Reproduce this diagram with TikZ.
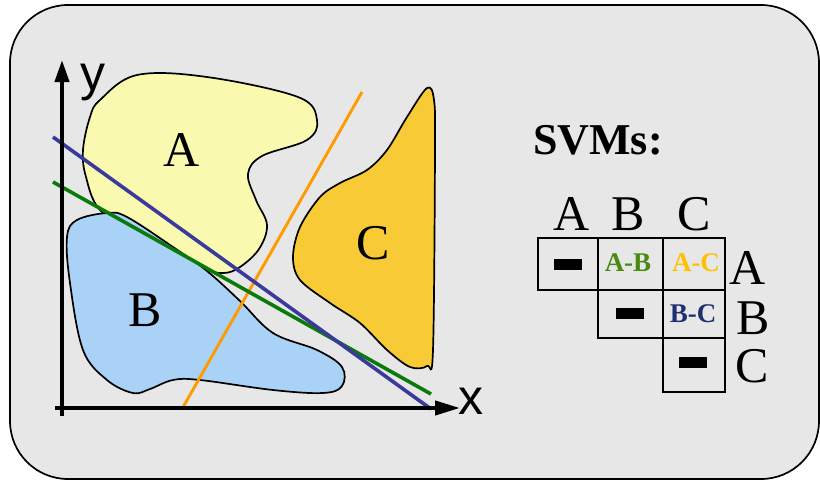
\documentclass[tikz,border=0pt]{standalone}
\usepackage{fontspec}
\setmainfont{Liberation Serif}
\newfontfamily\axfont{Liberation Sans}
\usetikzlibrary{arrows.meta}
\definecolor{bgc}{HTML}{E7E7E7}
\definecolor{blobA}{HTML}{F9F9B0}
\definecolor{blobB}{HTML}{AAD2F6}
\definecolor{blobC}{HTML}{F8CA36}
\definecolor{lnBlue}{HTML}{3A3A9C}
\definecolor{lnGreen}{HTML}{0A7A0A}
\definecolor{lnOrange}{HTML}{FF9A00}
\definecolor{txGreen}{HTML}{4A8A10}
\definecolor{txGold}{HTML}{FFC000}
\definecolor{txNavy}{HTML}{1F3070}
\tikzset{
  blob/.style={draw=black, line width=1.7pt},
  big/.style={font=\fontsize{50}{52}\selectfont, inner sep=0pt},
  axlbl/.style={font=\axfont\fontsize{50}{52}\selectfont, inner sep=0pt},
  sep/.style={line width=3.6pt},
  cell/.style={draw=black, line width=1.9pt},
  pair/.style={font=\bfseries\fontsize{27}{29}\selectfont, inner sep=0pt},
  dashbox/.style={fill=black, minimum width=28pt, minimum height=11pt, inner sep=0pt}
}
\begin{document}
\begin{tikzpicture}[x=1pt,y=-1pt]
\useasboundingbox (0,0) rectangle (820,480);
% background
\draw[fill=bgc, line width=1.7pt, rounded corners=58pt] (10,5) rectangle (819,479);
% blob A
\draw[blob, fill=blobA] plot[smooth cycle, tension=0.6] coordinates {
 (100,100) (137,75) (207,77) (298,97) (317,120) (307,140) (262,156) (248,174)
 (256,200) (267,225) (259,249) (240,267) (223,273) (200,267) (140,237)
 (100,210) (86,177) (83,150) (90,117)};
% blob B
\draw[blob, fill=blobB] plot[smooth cycle, tension=0.6] coordinates {
 (107,213) (127,217) (173,247) (207,271) (240,301) (273,333) (317,350)
 (342,367) (342,386) (323,393) (273,390) (200,380) (173,380) (150,389)
 (133,393) (107,380) (83,350) (70,283) (67,237) (77,220)};
% blob C
\draw[blob, fill=blobC] plot[smooth cycle, tension=0.55] coordinates {
 (427,88) (434,100) (435,150) (433,350) (427,366) (410,367) (387,350)
 (360,323) (330,303) (300,280) (293,257) (300,227) (320,197) (340,183)
 (367,170) (387,150) (407,117)};
% labels in blobs
\node[big] (lA) at (182,150) {A};
\node[big] (lB) at (145,310) {B};
\node[big] (lC) at (373,243) {C};
% separating lines
\draw[sep, lnOrange, line width=2.9pt] (182,409) -- (362,92);
\draw[sep, lnGreen] (53,182) -- (431,394);
\draw[sep, lnBlue] (53,137) -- (431,409);
% axes
\draw[line width=4pt, -{Triangle[length=22pt,width=14pt]}] (62,416) -- (62,60);
\draw[line width=4pt, -{Triangle[length=25pt,width=14pt]}] (55,408) -- (460,408);
\node[axlbl] (ly) at (93,82) {y};
\node[axlbl] (lx) at (471,401) {x};
% SVMs title
\node[font=\bfseries\fontsize{44}{46}\selectfont, inner sep=0pt] (svm) at (598,140) {SVMs:};
% table
\draw[cell] (538,238) rectangle (598,290);
\draw[cell] (598,238) rectangle (663,290);
\draw[cell] (663,238) rectangle (725,290);
\draw[cell] (598,290) rectangle (663,338);
\draw[cell] (663,290) rectangle (725,338);
\draw[cell] (663,338) rectangle (725,392);
\node[big] (hA) at (572,214) {A};
\node[big] (hB) at (628,214) {B};
\node[big] (hC) at (694,214) {C};
\node[big] (rA) at (748,268) {A};
\node[big] (rB) at (753,318) {B};
\node[big] (rC) at (752,366) {C};
\node[dashbox] (d1) at (568,264) {};
\node[dashbox] (d2) at (630,313) {};
\node[dashbox] (d3) at (693,362) {};
\node[pair, text=txGreen] (ab) at (628,263) {A-B};
\node[pair, text=txGold] (ac) at (696,263) {A-C};
\node[pair, text=txNavy] (bc) at (693,314) {B-C};
\end{tikzpicture}
\end{document}
